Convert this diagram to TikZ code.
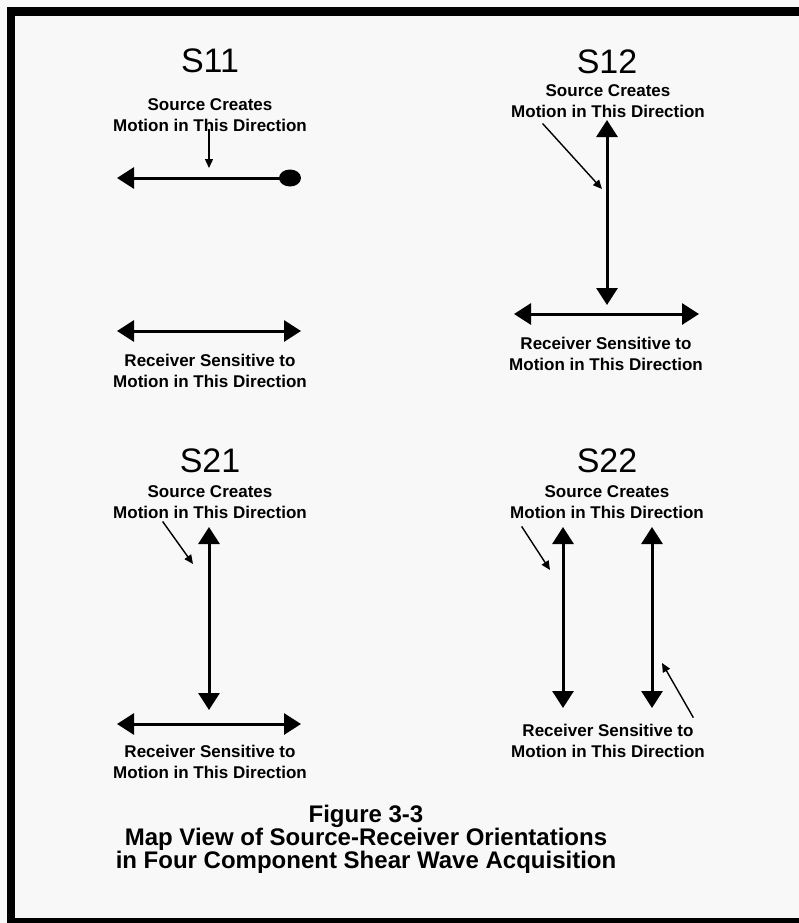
\documentclass[tikz,border=0pt]{standalone}
\usepackage{fontspec}
\setmainfont{Liberation Sans}
\usetikzlibrary{arrows.meta}

\tikzset{
  grouptitle/.style={inner sep=0, outer sep=0, font=\fontsize{34pt}{34pt}\selectfont},
  txtlabel/.style={inner sep=0, outer sep=0, align=center, font=\fontsize{17pt}{21pt}\bfseries\selectfont},
  figcaption/.style={inner sep=0, outer sep=0, align=center, font=\fontsize{24pt}{23pt}\bfseries\selectfont},
  motion/.style={line width=3.0pt, {Triangle[length=17pt,width=21pt]}-{Triangle[length=17pt,width=21pt]}},
  pointer/.style={line width=1.4pt, -{Triangle[length=9pt,width=8pt]}},
}

\begin{document}
\begin{tikzpicture}[x=1pt,y=-1pt,line cap=rect]
\useasboundingbox (0,0) rectangle (799,923);
\definecolor{custcol_page}{RGB}{248, 248, 248}
\definecolor{custcol_ink}{RGB}{0, 0, 0}
\fill [custcol_page] (0,0) rectangle (799,923);
% frame
\fill [custcol_ink] (7,7) rectangle (799,16);
\fill [custcol_ink] (7,7) rectangle (15,923);
\fill [custcol_ink] (7,918) rectangle (799,923);
% S11
\node[grouptitle] (t11) at (210,61) {S11};
\node[txtlabel] (src11) at (210,115) {Source Creates\\Motion in This Direction};
\node[txtlabel] (rcv11) at (210,371) {Receiver Sensitive to\\Motion in This Direction};
\coordinate (s11l) at (117,178);
\coordinate (s11r) at (290,178);
\coordinate (p11a) at (209,130);
\coordinate (p11b) at (209,168);
\draw [line width=3.0pt, {Triangle[length=17pt,width=21pt]}-] (s11l) -- (s11r);
\fill [custcol_ink] (s11r) ellipse (11 and 8.5);
\draw [pointer] (p11a) -- (p11b);
\coordinate (r11l) at (117,331);
\coordinate (r11r) at (301,331);
\draw [motion] (r11l) -- (r11r);
% S12
\node[grouptitle] (t12) at (607,62) {S12};
\node[txtlabel] (src12) at (608,101) {Source Creates\\Motion in This Direction};
\node[txtlabel] (rcv12) at (606,354) {Receiver Sensitive to\\Motion in This Direction};
\coordinate (s12t) at (607,120);
\coordinate (s12b) at (607,305);
\coordinate (r12l) at (514,314);
\coordinate (r12r) at (699,314);
\coordinate (p12a) at (543,124);
\coordinate (p12b) at (602,189);
\draw [motion] (s12t) -- (s12b);
\draw [motion] (r12l) -- (r12r);
\draw [pointer] (p12a) -- (p12b);
% S21
\node[grouptitle] (t21) at (210,461) {S21};
\node[txtlabel] (src21) at (210,502) {Source Creates\\Motion in This Direction};
\node[txtlabel] (rcv21) at (210,762) {Receiver Sensitive to\\Motion in This Direction};
\coordinate (s21t) at (209,527);
\coordinate (s21b) at (209,710);
\coordinate (r21l) at (117,724);
\coordinate (r21r) at (301,724);
\coordinate (p21a) at (163,522);
\coordinate (p21b) at (193,564);
\draw [motion] (s21t) -- (s21b);
\draw [motion] (r21l) -- (r21r);
\draw [pointer] (p21a) -- (p21b);
% S22
\node[grouptitle] (t22) at (607,461) {S22};
\node[txtlabel] (src22) at (607,502) {Source Creates\\Motion in This Direction};
\node[txtlabel] (rcv22) at (608,741) {Receiver Sensitive to\\Motion in This Direction};
\coordinate (s22t) at (563,527);
\coordinate (s22b) at (563,708);
\coordinate (r22t) at (652,527);
\coordinate (r22b) at (652,708);
\coordinate (p22a) at (522,527);
\coordinate (p22b) at (550,570);
\coordinate (q22a) at (693,717);
\coordinate (q22b) at (662,663);
\draw [motion] (s22t) -- (s22b);
\draw [motion] (r22t) -- (r22b);
\draw [pointer] (p22a) -- (p22b);
\draw [pointer] (q22a) -- (q22b);
% caption
\node[figcaption] (cap) at (366,839) {Figure 3-3\\Map View of Source-Receiver Orientations\\in Four Component Shear Wave Acquisition};
\end{tikzpicture}
\end{document}
